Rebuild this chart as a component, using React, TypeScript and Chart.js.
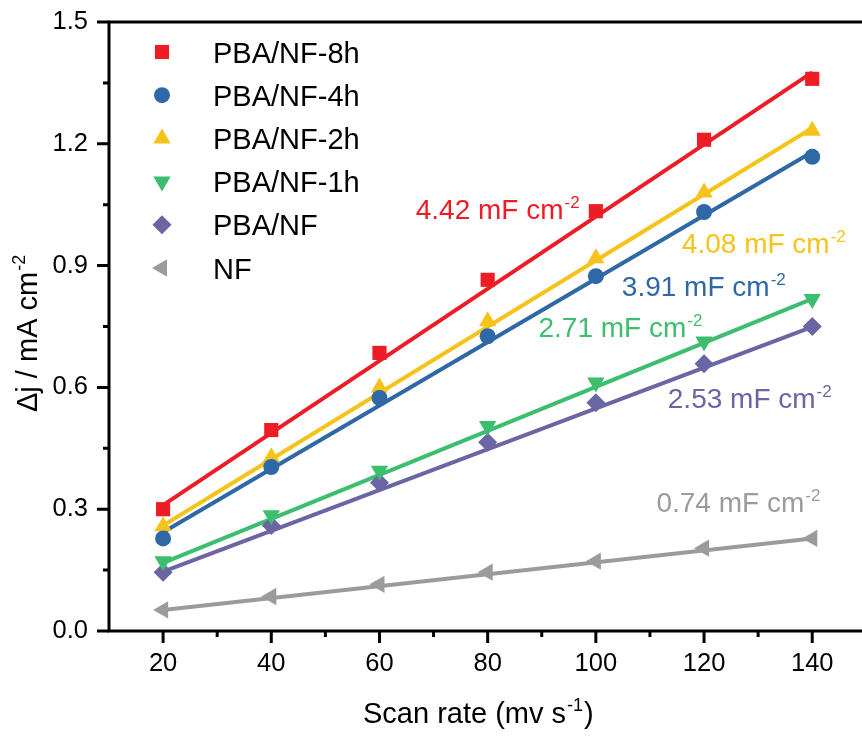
import React, { useEffect, useRef } from 'react';
import { Chart, registerables } from 'chart.js';
import { drawPoint } from 'chart.js/helpers';

Chart.register(...registerables);

// ---- data ----
const scanRates = [20, 40, 60, 80, 100, 120, 140];
const pba8h = [0.30, 0.495, 0.685, 0.865, 1.034, 1.21, 1.36];
const pba4h = [0.228, 0.404, 0.574, 0.726, 0.874, 1.032, 1.168];
const pba2h = [0.258, 0.428, 0.600, 0.763, 0.918, 1.08, 1.232];
const pba1h = [0.172, 0.285, 0.395, 0.505, 0.612, 0.713, 0.818];
const pbaNF = [0.145, 0.26, 0.365, 0.465, 0.562, 0.658, 0.75];
const nf = [0.052, 0.085, 0.115, 0.145, 0.172, 0.204, 0.228];

const fitX = [20, 140];
const fit8h = [0.31, 1.376];
const fit4h = [0.243, 1.18];
const fit2h = [0.26, 1.239];
const fit1h = [0.168, 0.818];
const fitPBA = [0.146, 0.749];
const fitNF = [0.052, 0.228];

const seriesNames = ['PBA/NF-8h', 'PBA/NF-4h', 'PBA/NF-2h', 'PBA/NF-1h', 'PBA/NF', 'NF'];
const capacitances = ['4.42', '3.91', '4.08', '2.71', '2.53', '0.74'];

const xMajorTicks = [20, 40, 60, 80, 100, 120, 140];
const xMinorTicks = [30, 50, 70, 90, 110, 130];
const yMajorTicks = [0, 0.3, 0.6, 0.9, 1.2, 1.5];
const yMinorTicks = [0.15, 0.45, 0.75, 1.05, 1.35];

// ---- styles ----
const colors = ['#EE1C25', '#2F68A6', '#F5C31C', '#3CBE6E', '#6A65A3', '#9B9B9B'];
const markerStyles = [
  { pointStyle: 'rect', rotation: 0, radius: 10 },
  { pointStyle: 'circle', rotation: 0, radius: 8 },
  { pointStyle: 'triangle', rotation: 0, radius: 10 },
  { pointStyle: 'triangle', rotation: 180, radius: 10 },
  { pointStyle: 'rectRot', rotation: 0, radius: 9.5 },
  { pointStyle: 'triangle', rotation: -90, radius: 10 },
];
// annotation anchors in data coordinates (left x, baseline y), same order as series
const labelAnchors = [
  { x: 66.7, y: 1.015 },
  { x: 104.8, y: 0.825 },
  { x: 115.9, y: 0.931 },
  { x: 89.4, y: 0.724 },
  { x: 113.3, y: 0.549 },
  { x: 111.2, y: 0.293 },
];

const FONT = "'Liberation Sans', Arial, Helvetica, sans-serif";

const seriesValues = [pba8h, pba4h, pba2h, pba1h, pbaNF, nf];
const fitValues = [fit8h, fit4h, fit2h, fit1h, fitPBA, fitNF];

function drawSupText(ctx: CanvasRenderingContext2D, x: number, y: number, main: string, sup: string, tail: string, size: number, color: string) {
  ctx.fillStyle = color;
  ctx.textBaseline = 'alphabetic';
  ctx.textAlign = 'left';
  ctx.font = `${size}px ${FONT}`;
  ctx.fillText(main, x, y);
  let w = ctx.measureText(main).width;
  ctx.font = `${Math.round(size * 0.62)}px ${FONT}`;
  ctx.fillText(sup, x + w + 1, y - size * 0.4);
  w += ctx.measureText(sup).width + 2;
  if (tail) {
    ctx.font = `${size}px ${FONT}`;
    ctx.fillText(tail, x + w, y);
  }
}

const decorPlugin = {
  id: 'decor',
  afterDraw(chart: any) {
    const ctx: CanvasRenderingContext2D = chart.ctx;
    const { left, right, top, bottom } = chart.chartArea;
    const xs = chart.scales.x;
    const ys = chart.scales.y;
    ctx.save();
    // axes
    ctx.strokeStyle = '#000';
    ctx.lineWidth = 3;
    ctx.lineCap = 'butt';
    ctx.beginPath();
    ctx.moveTo(left, top);
    ctx.lineTo(left, bottom + 1.5);
    ctx.moveTo(left - 1.5, bottom);
    ctx.lineTo(right, bottom);
    ctx.moveTo(left - 1.5, top);
    ctx.lineTo(right, top);
    ctx.stroke();
    // ticks
    ctx.beginPath();
    xMajorTicks.forEach((v) => {
      const p = xs.getPixelForValue(v);
      ctx.moveTo(p, bottom);
      ctx.lineTo(p, bottom + 12);
    });
    xMinorTicks.forEach((v) => {
      const p = xs.getPixelForValue(v);
      ctx.moveTo(p, bottom);
      ctx.lineTo(p, bottom + 6);
    });
    yMajorTicks.forEach((v) => {
      const p = ys.getPixelForValue(v);
      ctx.moveTo(left, p);
      ctx.lineTo(left - 12, p);
    });
    yMinorTicks.forEach((v) => {
      const p = ys.getPixelForValue(v);
      ctx.moveTo(left, p);
      ctx.lineTo(left - 6, p);
    });
    ctx.stroke();

    // legend
    seriesNames.forEach((name, i) => {
      const cy = 52 + 43.2 * i;
      ctx.fillStyle = colors[i];
      drawPoint(ctx, { ...markerStyles[i], borderWidth: 0 } as any, 162, cy);
      ctx.fillStyle = '#000';
      ctx.font = `29px ${FONT}`;
      ctx.textAlign = 'left';
      ctx.textBaseline = 'alphabetic';
      ctx.fillText(name, 213, cy + 10.5);
    });

    // capacitance annotations
    capacitances.forEach((c, i) => {
      const a = labelAnchors[i];
      drawSupText(ctx, xs.getPixelForValue(a.x), ys.getPixelForValue(a.y), `${c} mF cm`, '-2', '', 28, colors[i]);
    });

    // x title
    drawSupText(ctx, 363, 723, 'Scan rate (mv s', '-1', ')', 29, '#000');
    // y title
    ctx.save();
    ctx.translate(37, 412);
    ctx.rotate(-Math.PI / 2);
    drawSupText(ctx, 0, 0, 'Δj / mA cm', '-2', '', 29, '#000');
    ctx.restore();

    ctx.restore();
  },
};

export default function App() {
  const ref = useRef<HTMLCanvasElement | null>(null);
  useEffect(() => {
    document.body.style.margin = '0';
    const canvas = ref.current!;
    const fitSets = fitValues.map((vals, i) => ({
      label: seriesNames[i] + ' fit',
      data: fitX.map((x, j) => ({ x, y: vals[j] })),
      showLine: true,
      borderColor: colors[i],
      backgroundColor: colors[i],
      borderWidth: 4,
      pointRadius: 0,
      order: 2,
    }));
    const markerSets = seriesValues.map((vals, i) => ({
      label: seriesNames[i],
      data: scanRates.map((x, j) => ({ x, y: vals[j] })),
      showLine: false,
      backgroundColor: colors[i],
      borderColor: colors[i],
      borderWidth: 0,
      pointStyle: markerStyles[i].pointStyle,
      rotation: markerStyles[i].rotation,
      pointRadius: markerStyles[i].radius,
      order: 1,
    }));
    const chart = new Chart(canvas, {
      type: 'scatter',
      data: { datasets: [...fitSets, ...markerSets] as any },
      options: {
        animation: false,
        responsive: false,
        maintainAspectRatio: false,
        layout: { autoPadding: false, padding: { top: 22, right: 0, left: 0, bottom: 0 } },
        plugins: { legend: { display: false }, tooltip: { enabled: false } },
        scales: {
          x: {
            type: 'linear',
            min: 10,
            max: 149.2,
            grid: { display: false, drawTicks: false },
            border: { display: false },
            afterFit: (s: any) => { s.height = 106; s.paddingLeft = 0; s.paddingRight = 0; },
            afterBuildTicks: (s: any) => { s.ticks = xMajorTicks.map((v) => ({ value: v })); },
            ticks: {
              padding: 18,
              color: '#000',
              font: { family: FONT, size: 25.5 },
              maxRotation: 0,
              callback: (v: any) => String(v),
            },
          },
          y: {
            type: 'linear',
            min: 0,
            max: 1.5,
            grid: { display: false, drawTicks: false },
            border: { display: false },
            afterFit: (s: any) => { s.width = 109; s.paddingTop = 0; s.paddingBottom = 0; },
            afterBuildTicks: (s: any) => { s.ticks = yMajorTicks.map((v) => ({ value: v })); },
            ticks: {
              padding: 21,
              color: '#000',
              font: { family: FONT, size: 25.5 },
              callback: (v: any) => Number(v).toFixed(1),
            },
          },
        },
      },
      plugins: [decorPlugin],
    });
    return () => chart.destroy();
  }, []);
  return (
    <div style={{ width: 862, height: 737, background: '#fff' }}>
      <canvas ref={ref} width={862} height={737} style={{ display: 'block' }} />
    </div>
  );
}
